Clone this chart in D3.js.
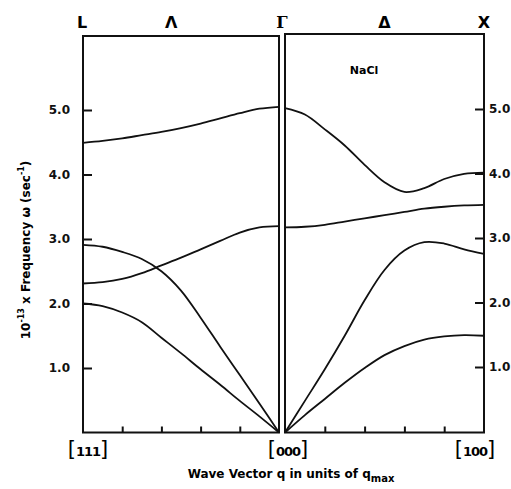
<!DOCTYPE html>
<html>
<head>
<meta charset="utf-8">
<script src="https://cdn.jsdelivr.net/npm/d3@7"></script>
<style>
  body { margin: 0; background: #fff; }
  svg { font-family: "DejaVu Sans", sans-serif; font-weight: bold; }
  .frame { fill: none; stroke: #111; stroke-width: 2; }
  .branch { fill: none; stroke: #111; stroke-width: 1.8; }
  .axis path.domain { display: none; }
  .axis line { stroke: #111; stroke-width: 2; }
  .axis text { font-size: 12px; font-weight: bold; fill: #111; font-family: "DejaVu Sans", sans-serif; }
</style>
</head>
<body>
<div id="chart"></div>
<script>
"use strict";

// reduced wave vector, 0 = Gamma, 1 = zone edge
var qGrid = [0, 0.1, 0.2, 0.3, 0.4, 0.5, 0.6, 0.7, 0.8, 0.9, 1.0];

// Lambda direction, Gamma -> L  (10^13 sec^-1)
var lambdaLO  = [5.05, 5.02, 4.95, 4.87, 4.79, 4.72, 4.66, 4.61, 4.56, 4.52, 4.49];
var lambdaTO  = [3.20, 3.18, 3.10, 2.97, 2.84, 2.71, 2.59, 2.47, 2.38, 2.33, 2.31];
var lambdaLA  = [0.00, 0.45, 0.89, 1.33, 1.78, 2.20, 2.50, 2.69, 2.80, 2.88, 2.91];
var lambdaTA  = [0.00, 0.25, 0.49, 0.74, 0.98, 1.23, 1.47, 1.71, 1.86, 1.96, 2.00];

// Delta direction, Gamma -> X
var deltaLO   = [5.03, 4.93, 4.70, 4.45, 4.15, 3.88, 3.73, 3.79, 3.93, 4.01, 4.03];
var deltaTO   = [3.18, 3.19, 3.22, 3.27, 3.32, 3.37, 3.42, 3.47, 3.50, 3.52, 3.53];
var deltaLA   = [0.00, 0.49, 0.98, 1.50, 2.05, 2.52, 2.82, 2.95, 2.93, 2.84, 2.77];
var deltaTA   = [0.00, 0.27, 0.52, 0.77, 1.00, 1.20, 1.34, 1.44, 1.49, 1.51, 1.50];

var freqTicks = [1, 2, 3, 4, 5];
var qTicks = [0.2, 0.4, 0.6, 0.8];

var svg = d3.select("#chart").append("svg")
    .attr("width", 511)
    .attr("height", 489);

var xL = d3.scaleLinear().domain([1, 0]).range([83, 279]),
    xR = d3.scaleLinear().domain([0, 1]).range([285, 484]),
    y = d3.scaleLinear().domain([0, 5]).range([432.5, 110]);

// panel frames
svg.append("rect").attr("class", "frame")
    .attr("x", xL(1)).attr("y", 36)
    .attr("width", xL(0) - xL(1)).attr("height", y(0) - 36);
svg.append("rect").attr("class", "frame")
    .attr("x", xR(0)).attr("y", 34)
    .attr("width", xR(1) - xR(0)).attr("height", y(0) - 34);

// axes
svg.append("g").attr("class", "axis")
    .attr("transform", "translate(" + xL(1) + ",0)")
    .call(d3.axisLeft(y).tickValues(freqTicks).tickFormat(d3.format(".1f"))
        .tickSizeInner(-9).tickSizeOuter(0).tickPadding(13));

svg.append("g").attr("class", "axis")
    .attr("transform", "translate(" + xR(1) + ",-1)")
    .call(d3.axisRight(y).tickValues(freqTicks).tickFormat(d3.format(".1f"))
        .tickSizeInner(-9).tickSizeOuter(0).tickPadding(5));

svg.append("g").attr("class", "axis")
    .attr("transform", "translate(0," + y(0) + ")")
    .call(d3.axisBottom(xL).tickValues(qTicks).tickFormat("").tickSizeInner(-6).tickSizeOuter(0));

svg.append("g").attr("class", "axis")
    .attr("transform", "translate(0," + y(0) + ")")
    .call(d3.axisBottom(xR).tickValues(qTicks).tickFormat("").tickSizeInner(-6).tickSizeOuter(0));

// dispersion branches
function drawBranch(xs, vals) {
    var line = d3.line()
        .x(function (d) { return xs(d[0]); })
        .y(function (d) { return y(d[1]); })
        .curve(d3.curveCatmullRom.alpha(0.5));
    var pts = qGrid.map(function (q, i) { return [q, vals[i]]; });
    pts.sort(function (a, b) { return xs(a[0]) - xs(b[0]); });
    svg.append("path").attr("class", "branch").attr("d", line(pts));
}
[lambdaLO, lambdaTO, lambdaLA, lambdaTA].forEach(function (v) { drawBranch(xL, v); });
[deltaLO, deltaTO, deltaLA, deltaTA].forEach(function (v) { drawBranch(xR, v); });

// symmetry point labels on top
var topLabels = [
    { t: "L", x: xL(1) - 1, font: "DejaVu Sans" },
    { t: "Λ", x: xL(0.55), font: "DejaVu Sans" },
    { t: "Γ", x: (xL(0) + xR(0)) / 2, font: "DejaVu Serif" },
    { t: "Δ", x: xR(0.5), font: "DejaVu Sans" },
    { t: "X", x: xR(1), font: "DejaVu Sans" }
];
svg.selectAll(".toplab").data(topLabels).enter().append("text")
    .attr("x", function (d) { return d.x; })
    .attr("y", 28)
    .attr("text-anchor", "middle")
    .style("font-size", "16px")
    .style("font-family", function (d) { return d.font; })
    .text(function (d) { return d.t; });

// direction labels on bottom
var dirLabels = [
    { t: "111", x: xL(1) + 5 },
    { t: "000", x: (xL(0) + xR(0)) / 2 + 6 },
    { t: "100", x: xR(1) - 9 }
];
var dl = svg.selectAll(".dirlab").data(dirLabels).enter().append("text")
    .attr("x", function (d) { return d.x; })
    .attr("y", 456)
    .attr("text-anchor", "middle");
dl.append("tspan").style("font-size", "21px").style("font-weight", "normal").text("[");
dl.append("tspan").style("font-size", "13px").style("font-weight", "bold")
    .style("letter-spacing", "-1px").text(function (d) { return d.t; });
dl.append("tspan").style("font-size", "21px").style("font-weight", "normal").text("]");

// NaCl
svg.append("text").attr("x", 364).attr("y", 74)
    .attr("text-anchor", "middle").style("font-size", "11px").text("NaCl");

// x title
var xt = svg.append("text").attr("x", 291).attr("y", 478)
    .attr("text-anchor", "middle").style("font-size", "12px");
xt.append("tspan").text("Wave Vector q  in units of q");
xt.append("tspan").attr("dy", 4).style("font-size", "10px").text("max");

// y title
var yt = svg.append("text")
    .attr("transform", "translate(30,250) rotate(-90)")
    .attr("text-anchor", "middle").style("font-size", "12px");
yt.append("tspan").text("10");
yt.append("tspan").attr("dy", -6).style("font-size", "8px").text("-13");
yt.append("tspan").attr("dy", 6).text(" x Frequency ω (sec");
yt.append("tspan").attr("dy", -6).style("font-size", "8px").text("-1");
yt.append("tspan").attr("dy", 6).text(")");
</script>
</body>
</html>
